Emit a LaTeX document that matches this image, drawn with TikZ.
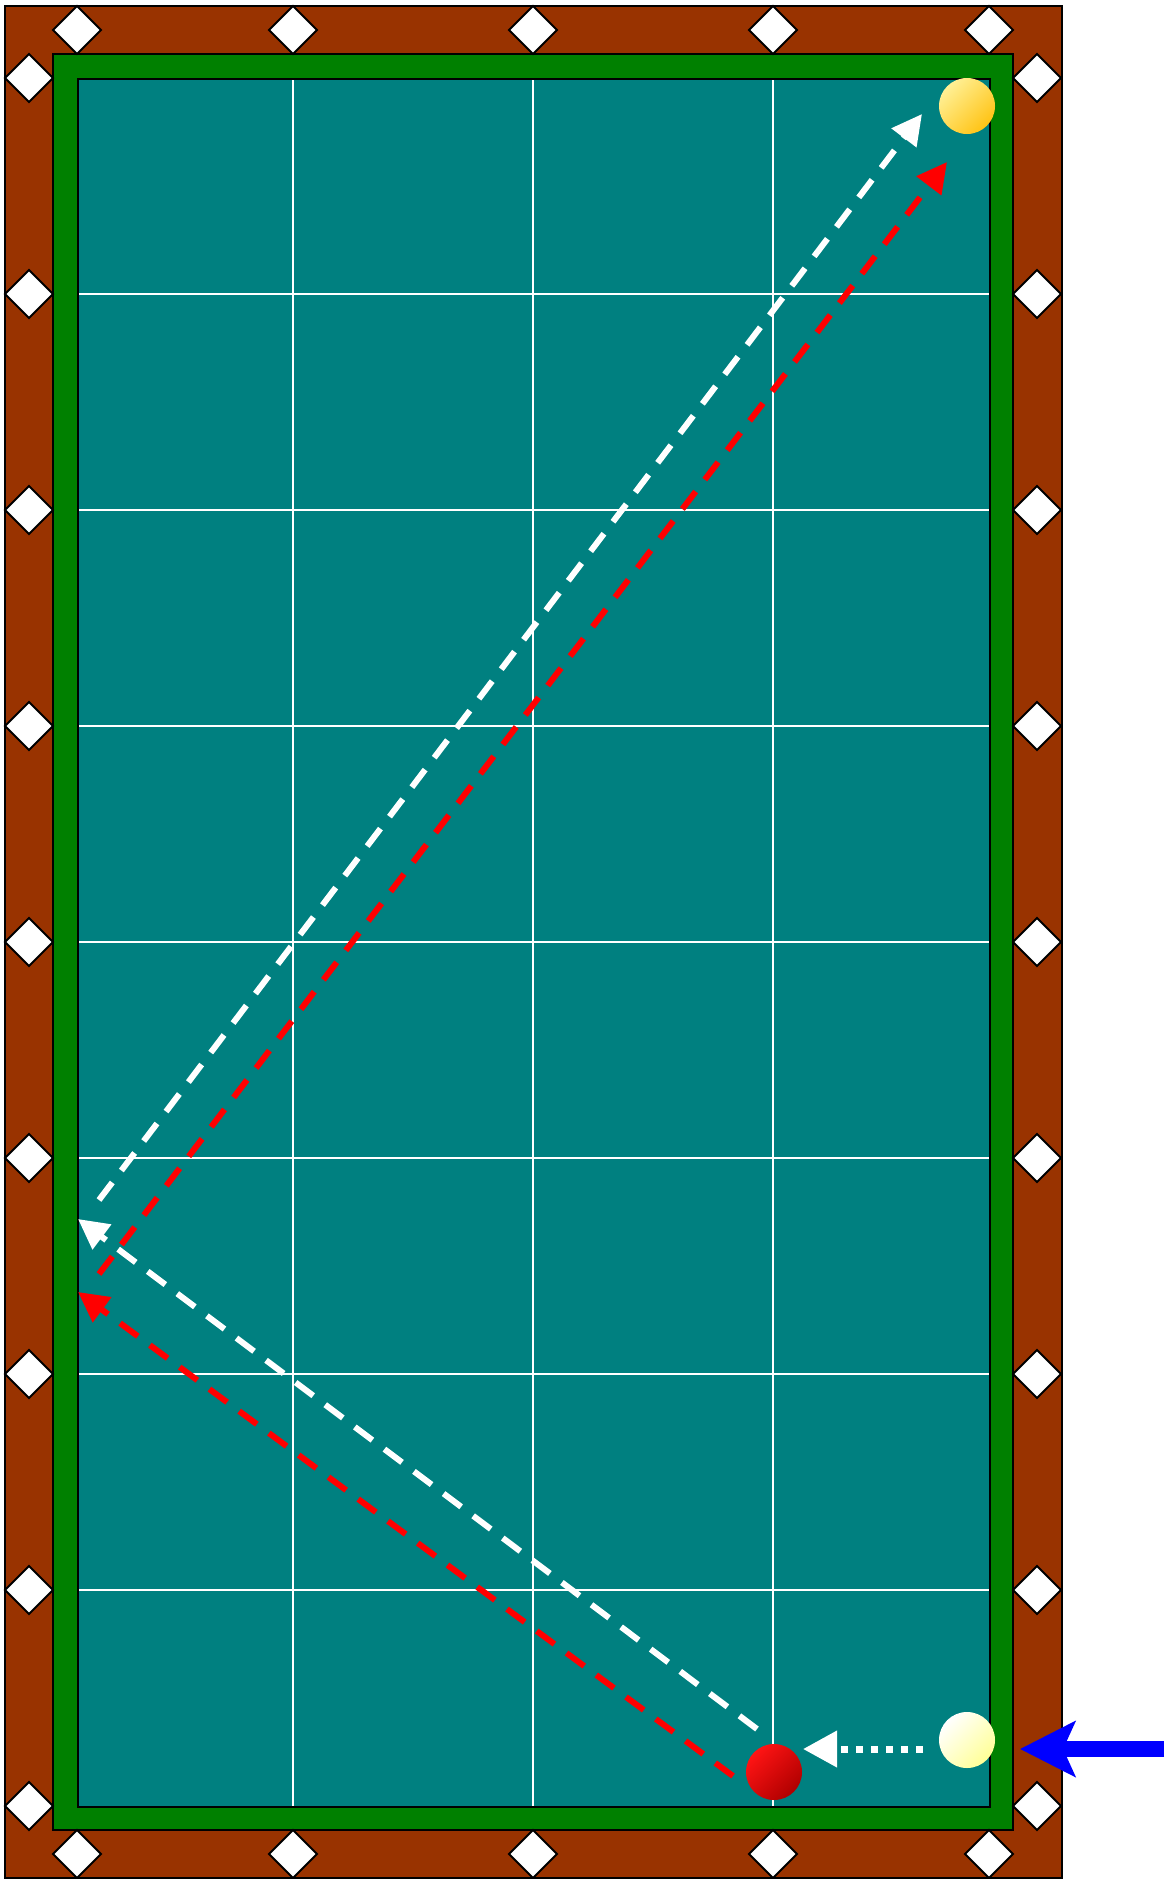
\documentclass[tikz,border=0pt]{standalone}
\usetikzlibrary{arrows.meta}
\definecolor{rail}{RGB}{153,51,0}
\definecolor{cushion}{RGB}{0,128,0}
\definecolor{cloth}{RGB}{0,128,128}
\definecolor{redlight}{RGB}{255,20,20}
\definecolor{reddark}{RGB}{175,0,0}
\definecolor{yellight}{RGB}{255,240,150}
\definecolor{yeldark}{RGB}{255,195,20}
\definecolor{cuedark}{RGB}{255,255,150}
\begin{document}
\begin{tikzpicture}[x=0.5pt,y=-0.5pt,
  diam/.style={fill=white,draw=black,line width=1pt},
  gridline/.style={draw=white,line width=1pt},
  traj/.style={line width=3pt,dash pattern=on 11pt off 7.5pt,-{Triangle[length=15pt,width=15pt]}},
  ball/.style={circle,minimum size=28pt,inner sep=0pt}]
\useasboundingbox (0,0) rectangle (1170,1879);
\fill[white] (0,0) rectangle (1170,1879);
% table
\draw[fill=rail,line width=1pt] (5,6) rectangle (1062,1878);
\draw[fill=cushion,line width=1pt] (53,54) rectangle (1013,1830);
\draw[fill=cloth,line width=1.2pt] (78,79) rectangle (990,1807);
% grid
\foreach \x in {293,533,773} {\draw[gridline] (\x,80) -- (\x,1806);}
\foreach \y in {294,510,726,942,1158,1374,1590} {\draw[gridline] (79,\y) -- (989,\y);}
% diamonds
\foreach \x in {77,293,533,773,989} {
  \draw[diam] (\x,30) +(-24,0) -- +(0,-24) -- +(24,0) -- +(0,24) -- cycle;
  \draw[diam] (\x,1854) +(-24,0) -- +(0,-24) -- +(24,0) -- +(0,24) -- cycle;
}
\foreach \k in {0,...,8} {
  \pgfmathsetmacro\yy{78+216*\k}
  \draw[diam] (29,\yy) +(-24,0) -- +(0,-24) -- +(24,0) -- +(0,24) -- cycle;
  \draw[diam] (1037,\yy) +(-24,0) -- +(0,-24) -- +(24,0) -- +(0,24) -- cycle;
}
% trajectory points
\coordinate (w0) at (757,1729);
\coordinate (w1) at (78,1219);
\coordinate (w2) at (99,1200);
\coordinate (w3) at (922,114);
\coordinate (r0) at (733,1776);
\coordinate (r1) at (78,1292);
\coordinate (r2) at (99,1274);
\coordinate (r3) at (947,162);
\coordinate (c0) at (923,1749);
\coordinate (c1) at (803,1749);
\coordinate (b0) at (1164,1749);
\coordinate (b1) at (1020,1749);
% trajectories
\draw[traj,white] (w0) -- (w1);
\draw[traj,white] (w2) -- (w3);
\draw[traj,red] (r0) -- (r1);
\draw[traj,red] (r2) -- (r3);
\draw[white,line width=3.5pt,dash pattern=on 3.5pt off 4pt,-{Triangle[length=17pt,width=17.5pt]}] (c0) -- (c1);
\draw[blue,line width=8pt,-{Stealth[length=27.5pt,width=27.5pt,inset=6pt]}] (b0) -- (b1);
% balls
\node[ball,top color=yellight,bottom color=yeldark,shading angle=45] (yellowball) at (967,106) {};
\node[ball,top color=white,bottom color=cuedark,shading angle=45] (cueball) at (967,1740) {};
\node[ball,top color=redlight,bottom color=reddark,shading angle=45] (redball) at (774,1772) {};
\end{tikzpicture}
\end{document}
